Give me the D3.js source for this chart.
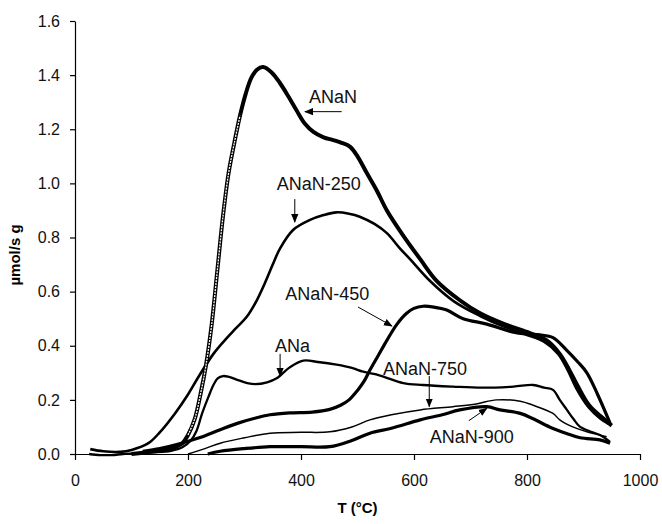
<!DOCTYPE html>
<html>
<head>
<meta charset="utf-8">
<script src="https://cdn.jsdelivr.net/npm/d3@7"></script>
<style>
  body { margin: 0; background: #fff; }
  text { font-family: "Liberation Sans", Arial, sans-serif; }
</style>
</head>
<body>
<div id="chart-area"></div>
<script>

// Data (T in degC, value in umol/s g)
var tANaN = [100, 140, 170, 190, 200, 212, 222, 232, 242, 252, 262, 272, 282, 292, 302, 312, 322, 333, 348, 363, 378, 392, 407, 422, 440, 457, 472, 487, 500, 516, 535, 552, 580, 611, 640, 680, 717, 760, 805, 835, 858, 875, 890, 910, 930, 950];
var vANaN = [0.00, 0.01, 0.02, 0.04, 0.07, 0.13, 0.22, 0.33, 0.48, 0.68, 0.88, 1.04, 1.15, 1.25, 1.33, 1.39, 1.42, 1.43, 1.41, 1.37, 1.32, 1.27, 1.22, 1.19, 1.17, 1.16, 1.15, 1.135, 1.10, 1.04, 0.97, 0.90, 0.81, 0.72, 0.64, 0.57, 0.52, 0.48, 0.447, 0.42, 0.37, 0.31, 0.25, 0.18, 0.14, 0.105];

var tANaN250 = [27, 50, 80, 100, 130, 150, 177, 200, 220, 245, 265, 285, 304, 322, 336, 350, 363, 386, 416, 440, 463, 485, 504, 530, 552, 575, 593, 628, 670, 717, 760, 800, 830, 855, 872, 888, 910, 930, 945];
var vANaN250 = [0.018, 0.01, 0.008, 0.015, 0.04, 0.08, 0.15, 0.22, 0.29, 0.37, 0.42, 0.465, 0.507, 0.569, 0.631, 0.70, 0.76, 0.828, 0.865, 0.883, 0.893, 0.888, 0.877, 0.85, 0.816, 0.76, 0.72, 0.64, 0.565, 0.51, 0.47, 0.44, 0.415, 0.37, 0.31, 0.24, 0.17, 0.13, 0.11];

var tANaN450 = [120, 150, 180, 220, 257, 290, 320, 345, 380, 420, 451, 470, 485, 500, 512, 522, 537, 552, 570, 587, 600, 616, 635, 658, 687, 729, 776, 800, 823, 846, 870, 890, 906, 925, 947];
var vANaN450 = [0.01, 0.02, 0.035, 0.06, 0.09, 0.115, 0.133, 0.145, 0.152, 0.155, 0.165, 0.18, 0.20, 0.235, 0.27, 0.31, 0.365, 0.42, 0.48, 0.52, 0.538, 0.546, 0.543, 0.532, 0.50, 0.48, 0.45, 0.443, 0.44, 0.43, 0.384, 0.34, 0.30, 0.22, 0.114];

var tANa = [25, 45, 65, 85, 110, 140, 170, 190, 205, 215, 225, 236, 245, 253, 262, 271, 290, 305, 319, 340, 357, 380, 404, 430, 463, 490, 510, 540, 581, 616, 669, 720, 776, 811, 830, 846, 858, 870, 882, 894, 910, 929, 947];
var vANa = [0.0, -0.004, -0.004, 0.0, 0.003, 0.006, 0.012, 0.025, 0.05, 0.085, 0.15, 0.21, 0.255, 0.28, 0.288, 0.286, 0.272, 0.262, 0.258, 0.265, 0.28, 0.32, 0.345, 0.34, 0.33, 0.318, 0.304, 0.29, 0.262, 0.255, 0.249, 0.245, 0.249, 0.255, 0.245, 0.237, 0.20, 0.165, 0.13, 0.10, 0.085, 0.07, 0.045];

var tANaN750 = [200, 230, 257, 300, 345, 400, 451, 490, 522, 560, 611, 669, 710, 746, 788, 811, 846, 858, 881, 906, 925, 941];
var vANaN750 = [0.0, 0.02, 0.04, 0.06, 0.077, 0.08, 0.082, 0.10, 0.126, 0.145, 0.163, 0.175, 0.185, 0.2, 0.195, 0.18, 0.15, 0.126, 0.10, 0.082, 0.072, 0.064];

var tANaN900 = [235, 257, 300, 345, 400, 451, 490, 522, 560, 611, 650, 681, 729, 752, 788, 811, 840, 870, 894, 929, 947];
var vANaN900 = [0.0, 0.01, 0.02, 0.027, 0.027, 0.027, 0.05, 0.077, 0.095, 0.126, 0.145, 0.163, 0.175, 0.163, 0.15, 0.13, 0.10, 0.076, 0.06, 0.052, 0.04];

var xTicks = [0, 200, 400, 600, 800, 1000];
var yTicks = [0, 0.2, 0.4, 0.6, 0.8, 1.0, 1.2, 1.4, 1.6];

// label text, text anchor point, arrow from -> to (all in data units)
var labelNames = ["ANaN", "ANaN-250", "ANaN-450", "ANa", "ANaN-750", "ANaN-900"];
var labelAt = [[414, 1.297], [357, 0.976], [372, 0.569], [354, 0.377], [545, 0.292], [628, 0.041]];
var arrowFrom = [[472, 1.265], [389, 0.942], [501, 0.543], [363, 0.370], [627, 0.288], [697, 0.123]];
var arrowTo = [[407, 1.265], [389, 0.857], [561, 0.473], [363, 0.288], [627, 0.175], [729, 0.169]];

var width = 662,
    height = 524;

var svg = d3.select("#chart-area").append("svg")
    .attr("width", width)
    .attr("height", height);

var x = d3.scaleLinear().domain([0, 1000]).range([75, 640]);
var y = d3.scaleLinear().domain([0, 1.6]).range([454, 21]);

// arrow head
svg.append("defs").append("marker")
    .attr("id", "head")
    .attr("viewBox", "0 0 10 10")
    .attr("refX", 9).attr("refY", 5)
    .attr("markerWidth", 9).attr("markerHeight", 9)
    .attr("markerUnits", "userSpaceOnUse")
    .attr("orient", "auto")
  .append("path")
    .attr("d", "M0,1 L10,5 L0,9 Z")
    .style("fill", "black");

// AXES
var xAxis = d3.axisBottom(x).tickValues(xTicks).tickSize(6).tickSizeOuter(0).tickPadding(15)
    .tickFormat(d3.format("d"));
var yAxis = d3.axisLeft(y).tickValues(yTicks).tickSize(5).tickSizeOuter(0).tickPadding(10)
    .tickFormat(d3.format(".1f"));

var gx = svg.append("g")
    .attr("transform", "translate(0," + y(0) + ")")
    .call(xAxis);
var gy = svg.append("g")
    .attr("transform", "translate(" + x(0) + ",0)")
    .call(yAxis);

[gx, gy].forEach(function(g) {
  g.attr("font-family", null).attr("font-size", null);
  g.selectAll("text").style("font-size", "16px").style("fill", "#111");
  g.selectAll("line, path").style("stroke", "black").style("stroke-width", 1.2);
});

svg.append("text")
    .attr("x", (x(0) + x(1000)) / 2)
    .attr("y", 513)
    .attr("text-anchor", "middle")
    .style("font-size", "15px")
    .style("font-weight", "bold")
    .text("T (°C)");

svg.append("text")
    .attr("transform", "translate(20," + 255 + ") rotate(-90)")
    .attr("text-anchor", "middle")
    .style("font-size", "15px")
    .style("font-weight", "bold")
    .text("µmol/s g");

// CURVES
var line = d3.line()
    .x(function(d) { return x(d[0]); })
    .y(function(d) { return y(d[1]); })
    .curve(d3.curveCatmullRom.alpha(0.5));

function pairs(t, v) {
  return t.map(function(d, i) { return [d, v[i]]; });
}

var series = [
  { t: tANaN250, v: vANaN250, w: 2.6 },
  { t: tANaN450, v: vANaN450, w: 3.2 },
  { t: tANa, v: vANa, w: 2.3 },
  { t: tANaN750, v: vANaN750, w: 1.5 },
  { t: tANaN900, v: vANaN900, w: 3.2 },
  { t: tANaN, v: vANaN, w: 4 }
];

svg.selectAll(".curve")
    .data(series)
    .enter()
    .append("path")
    .attr("class", "curve")
    .attr("d", function(d) { return line(pairs(d.t, d.v)); })
    .style("fill", "none")
    .style("stroke", "black")
    .style("stroke-width", function(d) { return d.w; })
    .style("stroke-linejoin", "round");

// hollow look on the steep rise of ANaN
var rise = pairs(tANaN, vANaN).filter(function(d) { return d[0] >= 195 && d[0] <= 300; });
svg.append("path")
    .attr("d", line(rise))
    .style("fill", "none")
    .style("stroke", "white")
    .style("stroke-width", 1.3)
    .style("stroke-dasharray", "2,1");

// LABELS AND ARROWS
labelNames.forEach(function(name, i) {
  svg.append("text")
      .attr("x", x(labelAt[i][0]))
      .attr("y", y(labelAt[i][1]))
      .style("font-size", "18px")
      .style("fill", "#111")
      .text(name);

  svg.append("line")
      .attr("x1", x(arrowFrom[i][0]))
      .attr("y1", y(arrowFrom[i][1]))
      .attr("x2", x(arrowTo[i][0]))
      .attr("y2", y(arrowTo[i][1]))
      .style("stroke", "black")
      .style("stroke-width", 1)
      .attr("marker-end", "url(#head)");
});

</script>
</body>
</html>
